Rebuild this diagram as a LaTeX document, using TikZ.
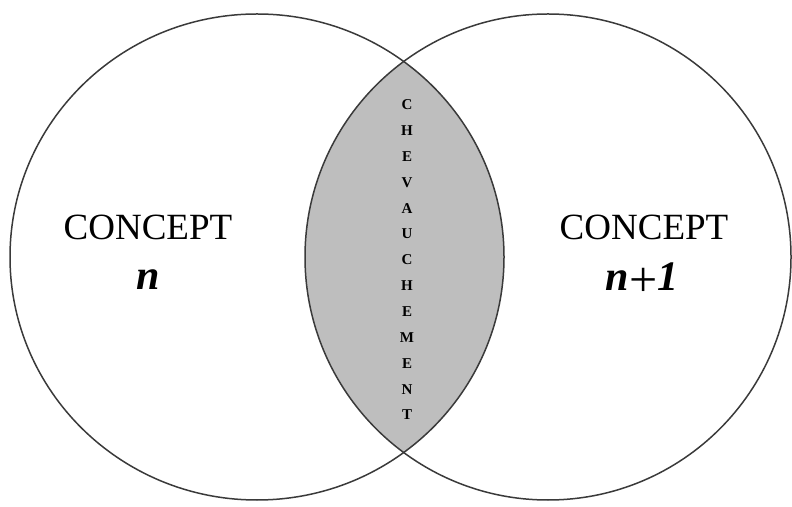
\documentclass[tikz,border=0pt]{standalone}
\usepackage{fontspec}
\setmainfont{Liberation Serif}
\usepackage{tikz}
\usetikzlibrary{positioning}
\definecolor{lensgray}{HTML}{BEBEBE}
\definecolor{rimgray}{HTML}{3A3A3A}

\begin{document}
\begin{tikzpicture}[x=1pt,y=1pt,
  rim/.style={draw=rimgray,line width=1.5pt},
  concept/.style={font=\fontsize{37}{40}\selectfont,inner sep=0pt},
  index/.style={font=\fontsize{42}{46}\selectfont\bfseries\itshape,inner sep=0pt},
  letter/.style={font=\fontsize{15}{16}\selectfont\bfseries,inner sep=0pt}]
  \useasboundingbox (0,0) rectangle (792,506);
  \coordinate (cl) at (257,249);
  \coordinate (cr) at (548,249);
  % overlap
  \begin{scope}
    \clip (cl) ellipse [x radius=247,y radius=243];
    \fill[lensgray] (cr) ellipse [x radius=243,y radius=243];
  \end{scope}
  \draw[rim] (cl) ellipse [x radius=247,y radius=243];
  \draw[rim] (cr) ellipse [x radius=243,y radius=243];
  % labels
  \node[concept] (cpl) at (148,279) {CONCEPT};
  \node[index] (nl) at (148,226) {n};
  \node[concept] (cpr) at (644,279) {CONCEPT};
  \node[index] (nr) at (642,226) {n\raisebox{-6pt}{\fontsize{50}{50}\selectfont\mdseries\upshape+}1};
  \foreach \c [count=\i from 0] in {C,H,E,V,A,U,C,H,E,M,E,N,T}{
    \node[letter] (ch\i) at (407,{401-25.83*\i}) {\c};
  }
\end{tikzpicture}
\end{document}
